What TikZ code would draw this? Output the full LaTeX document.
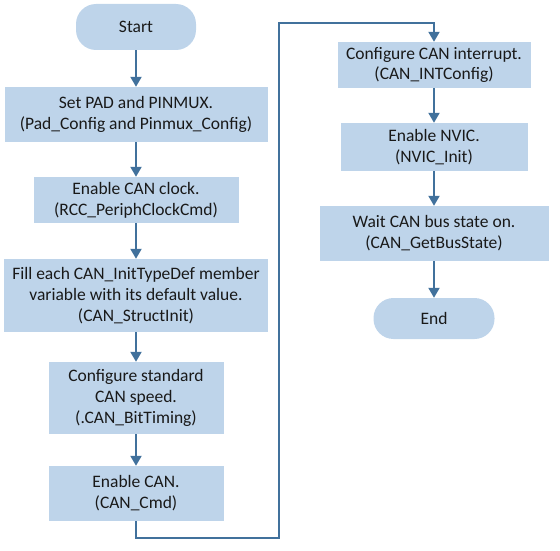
\documentclass[tikz,border=0pt]{standalone}
\usepackage{fontspec}
\setmainfont{Carlito}
\usetikzlibrary{arrows.meta}
\definecolor{boxfill}{RGB}{190,212,234}
\definecolor{flowline}{RGB}{65,113,156}
\tikzset{stepbox/.style={rectangle, fill=boxfill, inner sep=0pt, align=center,
      text=black!90, font=\fontsize{17.5}{20.8}\selectfont},
  term/.style={stepbox, rounded corners=20pt},
  ->-/.style={draw=flowline, line width=2pt,
      -{Triangle[length=10pt,width=11pt]}}}

\begin{document}
\begin{tikzpicture}[x=1pt, y=-1pt]
    \useasboundingbox (0,0) rectangle (560,551);
    % left column
    \node[term, minimum width=120pt, minimum height=46pt] (start) at (136,27) {Start};
    \node[stepbox, minimum width=263pt, minimum height=55pt] (pad) at (136,114.5)
      {Set PAD and PINMUX.\\(Pad\_Config and Pinmux\_Config)};
    \node[stepbox, minimum width=205pt, minimum height=46pt] (clk) at (136,200)
      {Enable CAN clock.\\(RCC\_PeriphClockCmd)};
    \node[stepbox, minimum width=264pt, minimum height=73pt] (init) at (136,295.5)
      {Fill each CAN\_InitTypeDef member\\variable with its default value.\\(CAN\_StructInit)};
    \node[stepbox, minimum width=175pt, minimum height=72pt] (speed) at (136,398)
      {Configure standard\\CAN speed.\\(.CAN\_BitTiming)};
    \node[stepbox, minimum width=175pt, minimum height=55pt] (en) at (136,493.5)
      {Enable CAN.\\(CAN\_Cmd)};
    % right column
    \node[stepbox, minimum width=193pt, minimum height=46pt] (intr) at (434,65)
      {Configure CAN interrupt.\\(CAN\_INTConfig)};
    \node[stepbox, minimum width=187pt, minimum height=48pt] (nvic) at (434,147)
      {Enable NVIC.\\(NVIC\_Init)};
    \node[stepbox, minimum width=229pt, minimum height=55pt] (bus) at (434,233.5)
      {Wait CAN bus state on.\\(CAN\_GetBusState)};
    \node[term, minimum width=121pt, minimum height=41pt] (end) at (434,318.5) {End};
    \coordinate (low) at (279,538);
    \coordinate (high) at (279,23);

    \draw[->-] (start) -- (pad);
    \draw[->-] (pad) -- (clk);
    \draw[->-] (clk) -- (init);
    \draw[->-] (init) -- (speed);
    \draw[->-] (speed) -- (en);
    \draw[->-] (en) -- (en.south |- low) -- (low) -- (high) -- (intr.north |- high) -- (intr);
    \draw[->-] (intr) -- (nvic);
    \draw[->-] (nvic) -- (bus);
    \draw[->-] (bus) -- (end);
  \end{tikzpicture}
\end{document}
